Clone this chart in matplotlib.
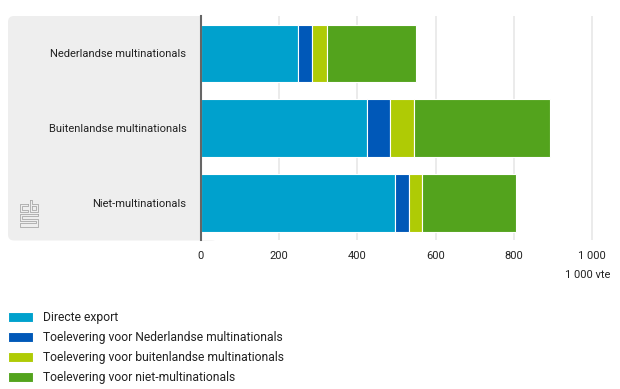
import matplotlib
matplotlib.use('Agg')
import matplotlib.pyplot as plt
from matplotlib.patches import FancyBboxPatch
from matplotlib.transforms import IdentityTransform

categories = ['Nederlandse multinationals', 'Buitenlandse multinationals', 'Niet-multinationals']
series_names = ['Directe export', 'Toelevering voor Nederlandse multinationals',
                'Toelevering voor buitenlandse multinationals', 'Toelevering voor niet-multinationals']
directe_export = [248, 425, 497]
toel_nl = [37, 59, 36]
toel_buitenl = [36, 62, 33]
toel_niet = [229, 346, 240]
colors = ['#00a1cd', '#0058b8', '#afcb05', '#53a31d']
xticks = [0, 200, 400, 600, 800, 1000]
xtick_labels = ['0', '200', '400', '600', '800', '1 000']

W, H = 620, 389
plt.rcParams['font.family'] = ['Roboto', 'DejaVu Sans']
text_color = '#222222'
fs = 8.0
fs_legend = 8.7

fig = plt.figure(figsize=(W / 100, H / 100), dpi=100)

# grey panel behind the category labels, rounded on the left (right side hidden by the axes)
panel = FancyBboxPatch((8, H - 240.5), 210, 224.5, boxstyle='round,pad=0,rounding_size=6',
                       transform=IdentityTransform(), facecolor='#eeeeee', linewidth=0, zorder=0)
fig.add_artist(panel)

ax = fig.add_axes([201 / W, 1 - 240.5 / H, 409 / W, 224.5 / H], facecolor='white')

left = [0, 0, 0]
for vals, name, c in zip([directe_export, toel_nl, toel_buitenl, toel_niet], series_names, colors):
    ax.barh(categories, vals, left=left, height=0.77, color=c, edgecolor='white',
            linewidth=0.8, label=name, zorder=2)
    left = [a + b for a, b in zip(left, vals)]

ax.set_ylim(2.5, -0.5)
ax.set_xlim(0, 409 / 0.391)
ax.set_xticks(xticks)
ax.set_xticklabels(xtick_labels)
ax.grid(True, axis='x', color='#e6e6e6', linewidth=1.1, zorder=0)
ax.set_axisbelow(True)
for s in ['top', 'right', 'bottom']:
    ax.spines[s].set_visible(False)
ax.spines['left'].set_color('#666666')
ax.spines['left'].set_linewidth(1.5)
ax.spines['left'].set_zorder(5)
ax.tick_params(axis='x', length=0, pad=7.5, labelsize=fs, labelcolor=text_color)
ax.tick_params(axis='y', length=0, pad=10.5, labelsize=fs, labelcolor=text_color)

fig.text(610 / W, 1 - 275.5 / H, '1 000 vte', ha='right', va='center', fontsize=fs, color=text_color)

# cbs logo, drawn as thin outlines in figure pixels
logo = [
    [(28, 204), (20, 204), (20, 212), (28, 212), (28, 210), (22, 210), (22, 206), (28, 206), (28, 204)],
    [(30, 200), (30, 212), (38, 212), (38, 204), (32, 204), (32, 200), (30, 200)],
    [(32, 206), (36, 206), (36, 210), (32, 210), (32, 206)],
    [(38, 214), (20, 214), (20, 221), (36, 221), (36, 223), (20, 223), (20, 227), (38, 227),
     (38, 219), (22, 219), (22, 216), (38, 216), (38, 214)],
]
for pts in logo:
    fig.add_artist(plt.Line2D([p[0] / W for p in pts], [1 - p[1] / H for p in pts],
                              transform=fig.transFigure, color='#a8a8a8', linewidth=0.6, zorder=1))

handles, labels = ax.get_legend_handles_labels()
fig.legend(handles, labels, loc='upper left', bbox_to_anchor=(8 / W, 1 - 311 / H),
           bbox_transform=fig.transFigure, frameon=False, fontsize=fs_legend, borderpad=0, borderaxespad=0,
           handlelength=2.07, handleheight=0.9, handletextpad=0.83, labelspacing=0.58,
           labelcolor=text_color)

fig.savefig('out.png', dpi=100)
